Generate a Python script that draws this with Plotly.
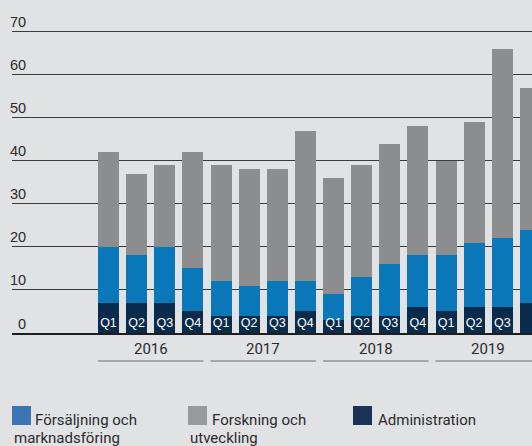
import plotly.graph_objects as go

# ---- data ----
years = ["2016", "2017", "2018", "2019"]
quarters = ["Q1", "Q2", "Q3", "Q4"]
admin = [7, 7, 7, 5, 4, 4, 4, 5, 3, 4, 4, 6, 5, 6, 6, 7]
sales = [13, 11, 13, 10, 8, 7, 8, 7, 6, 9, 12, 12, 13, 15, 16, 17]
rnd = [22, 19, 19, 27, 27, 27, 26, 35, 27, 26, 28, 30, 22, 28, 44, 33]
y_ticks = [0, 10, 20, 30, 40, 50, 60, 70]
series_names = ["Försäljning och<br>marknadsföring", "Forskning och<br>utveckling", "Administration"]

# ---- styling ----
W, H = 532, 446
ML, MR, MT, MB = 12, 0, 10, 113
BG = "#e1e2e4"
NAVY = "#0b2b4c"
BLUE = "#0a78b8"
GRAY = "#8c8d8f"
LEG_COLORS = ["#3b75b5", "#999a9c", "#1c3157"]
TXT = "#2b2b2b"
YMAX = 75

pw = W - ML - MR
ph = H - MT - MB


def px_x(px):
    return (px - ML) / pw


def px_y(py):
    return (H - MB - py) / ph


n = len(admin)
xs = list(range(n))
ticktext = [quarters[i % 4] for i in xs]
bw = 0.746

fig = go.Figure()
fig.add_bar(x=xs, y=admin, name="Administration", marker_color=NAVY, width=bw,
            marker_line_width=0, showlegend=False)
fig.add_bar(x=xs, y=sales, name="Försäljning och marknadsföring", marker_color=BLUE, width=bw,
            marker_line_width=0, showlegend=False)
fig.add_bar(x=xs, y=rnd, name="Forskning och utveckling", marker_color=GRAY, width=bw,
            marker_line_width=0, showlegend=False)

annotations = []
shapes = []

# y tick labels above gridlines
for v in y_ticks:
    annotations.append(dict(x=px_x(28), xref="paper", y=v, yref="y", text=str(v),
                            showarrow=False, xanchor="right", yanchor="middle", yshift=9.5,
                            font=dict(family="Liberation Sans", size=14.5, color=TXT)))

# year labels and underlines
for gi, yr in enumerate(years):
    i0, i1 = gi * 4, gi * 4 + 3
    annotations.append(dict(x=(i0 + i1) / 2, xref="x", y=px_y(349), yref="paper", text=yr,
                            showarrow=False, xanchor="center", yanchor="middle",
                            font=dict(family="Roboto", size=15, color=TXT)))
    shapes.append(dict(type="line", xref="x", yref="paper", x0=i0 - bw / 2, x1=i1 + bw / 2,
                       y0=px_y(361), y1=px_y(361), line=dict(color="#6a6a6a", width=1.2)))

# custom legend
leg_sw = [12, 188, 353]
leg_tx = [33, 210, 376]
for k, name in enumerate(series_names):
    shapes.append(dict(type="rect", xref="paper", yref="paper",
                       x0=px_x(leg_sw[k]), x1=px_x(leg_sw[k] + 19),
                       y0=px_y(425), y1=px_y(406), fillcolor=LEG_COLORS[k], line_width=0))
    lines = name.split("<br>")
    annotations.append(dict(x=px_x(leg_tx[k]), xref="paper", y=px_y(420), yref="paper",
                            text=lines[0], showarrow=False, xanchor="left", yanchor="middle",
                            font=dict(family="Roboto", size=15, color=TXT)))
    if len(lines) > 1:
        annotations.append(dict(x=px_x(leg_sw[k]), xref="paper", y=px_y(437.5), yref="paper",
                                text=lines[1], showarrow=False, xanchor="left", yanchor="middle",
                                font=dict(family="Roboto", size=15, color=TXT)))

fig.update_layout(
    width=W, height=H,
    margin=dict(l=ML, r=MR, t=MT, b=MB, pad=0),
    paper_bgcolor=BG, plot_bgcolor=BG,
    barmode="stack",
    annotations=annotations,
    shapes=shapes,
    xaxis=dict(range=[-3.43, 15.055], tickvals=xs, ticktext=ticktext,
               ticklabelposition="inside", ticks="", ticklabelstandoff=3,
               tickfont=dict(family="Liberation Sans", size=12.5, color="white"),
               showgrid=False, zeroline=False, showline=True, linecolor="#1e1e1e", linewidth=2.2),
    yaxis=dict(range=[0, YMAX], tickvals=y_ticks, showticklabels=False, ticks="",
               showgrid=True, gridcolor="#3a3a3a", gridwidth=1.2, zeroline=False),
)

fig.write_html("out.html", config={"displayModeBar": False},
               post_script="document.body.style.margin='0';document.body.style.overflow='hidden';")
